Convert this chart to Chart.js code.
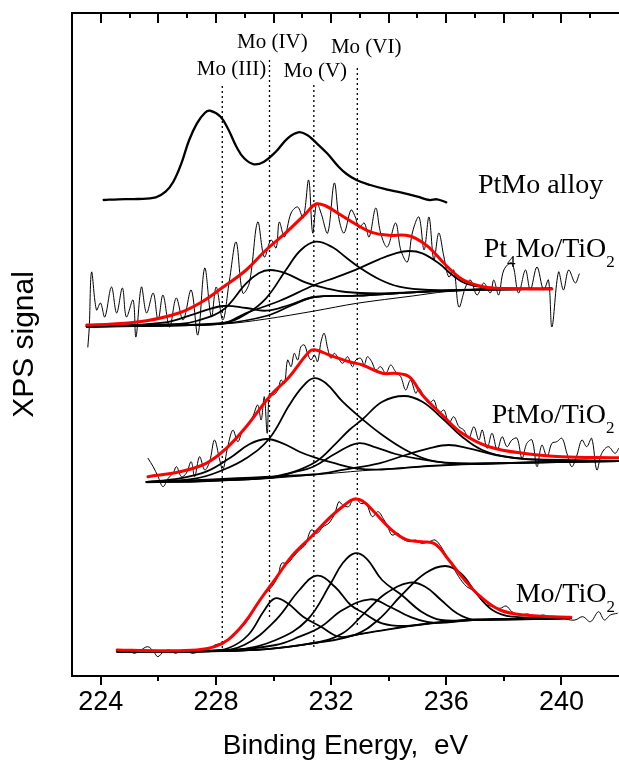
<!DOCTYPE html>
<html><head><meta charset="utf-8">
<script src="https://cdn.jsdelivr.net/npm/chart.js@4.4.0/dist/chart.umd.min.js"></script>
<style>html,body{margin:0;padding:0;background:#fff;}#wrap{width:619px;height:763px;}</style>
</head><body><div id="wrap"><canvas id="c" width="619" height="763"></canvas></div>
<script>
// ---- axis data ----
const energyMin = 223, energyMax = 242;
const intensityMin = 0, intensityMax = 663;
const xTickValues = [224, 228, 232, 236, 240];
const xMinorTickValues = [226, 230, 234, 238];

// ---- Mo oxidation state reference lines ----
const moStateLabels = ['Mo (III)', 'Mo (IV)', 'Mo (V)', 'Mo (VI)'];
const moStateE = [228.22, 229.86, 231.40, 232.91];
const moLineTop = [593, 618, 591, 609];
const moLineBottom = [28, 59, 29, 51];

// ---- PtMo alloy ----
const alloy = [[224.10,476],[224.61,476.7],[225.29,477],[225.91,478.7],[226.25,484.3],[226.52,494.3],[226.80,512.7],[227.07,536],[227.34,552.7],[227.62,563.3],[227.79,565.3],[228.16,559.3],[228.44,546],[228.71,529.3],[228.98,517.7],[229.32,511.7],[229.67,514.3],[230.08,524.3],[230.49,537.7],[230.86,543.7],[231.17,541],[231.44,534.3],[231.86,522.7],[232.26,509.3],[232.54,502],[232.88,496],[233.36,491],[233.91,486.7],[234.45,483.3],[235.00,479.3],[235.41,476],[235.68,476.7],[236.00,473.7]];

// ---- Pt4Mo/TiO2 ----
const pt4Raw = [[223.55,329],[223.60,349],[223.68,404],[223.85,366],[223.99,373],[224.14,359],[224.37,389],[224.55,363],[224.75,388],[224.89,359],[225.12,376],[225.22,339],[225.41,389],[225.59,363],[225.82,383],[225.99,356],[226.16,381],[226.39,349],[226.62,378],[226.86,356],[227.14,386],[227.37,341],[227.61,408],[227.84,359],[228.01,389],[228.24,356],[228.47,396],[228.70,434],[228.93,383],[229.16,393],[229.45,454],[229.68,419],[229.91,436],[230.09,428],[230.20,454],[230.38,439],[230.61,463],[230.84,469],[231.03,458],[231.22,496],[231.36,443],[231.50,473],[231.65,463],[231.88,443],[232.11,493],[232.28,456],[232.45,443],[232.69,466],[232.84,459],[232.97,448],[233.15,453],[233.32,439],[233.55,468],[233.72,443],[233.95,429],[234.24,453],[234.42,426],[234.65,414],[234.82,443],[235.05,459],[235.23,426],[235.40,459],[235.57,416],[235.74,443],[235.92,419],[236.09,399],[236.26,406],[236.44,369],[236.67,389],[236.84,396],[237.07,381],[237.30,393],[237.53,383],[237.65,396],[237.82,381],[238.00,406],[238.28,413],[238.51,383],[238.75,406],[238.92,386],[239.15,409],[239.38,386],[239.55,396],[239.67,349],[239.90,404],[240.07,386],[240.25,406],[240.48,393],[240.62,402]];
const pt4Fit = [[223.51,351],[224.43,352],[225.59,355.3],[226.74,363.3],[227.43,372.7],[228.24,388.7],[229.05,406],[229.74,426],[230.43,443.3],[231.13,462.7],[231.47,472],[231.82,470],[232.28,462],[232.86,451.7],[233.44,443.3],[234.01,440.7],[234.59,440.7],[234.94,437.7],[235.40,428.7],[235.98,411],[236.55,396.7],[237.13,390.3],[237.71,387.7],[239.67,387]];
const pt4Bg1 = [[223.51,349],[228.24,352],[229.74,357],[231.42,365],[232.89,372.7],[234.82,380],[235.98,384.3],[237.71,386.7],[239.67,387]];
const pt4Bg2 = [[223.51,349.5],[226.74,350.7],[228.24,352.3],[229.74,360],[230.66,371],[231.42,379],[232.89,380.3],[234.82,383.7],[237.13,386.3],[239.67,387.3]];
const pt4MoIII = [[223.51,349.5],[226.16,353.3],[227.32,362.7],[228.24,370],[229.05,368],[229.74,365.3],[230.55,371],[231.42,379],[232.89,380.3],[234.82,383.7],[237.13,386.3],[239.67,387.3]];
const pt4MoIV = [[223.51,349.5],[226.74,352],[227.32,355],[228.24,366],[229.05,392.7],[229.50,403],[229.88,406],[230.43,402.7],[231.13,393.3],[231.82,387.7],[232.51,384],[233.67,382.7],[234.82,383.7],[237.13,386.3],[239.67,387.3]];
const pt4MoV = [[223.51,349.5],[226.74,351],[228.24,352.7],[229.05,362],[229.74,377.7],[230.43,406],[230.95,426],[231.47,434.3],[232.05,428.7],[232.51,418.7],[232.97,408.7],[233.67,396.7],[234.36,389.3],[235.40,386],[237.13,386.7],[239.67,387.3]];
const pt4High = [[223.51,349.5],[228.24,353],[229.05,363],[230.20,375],[231.42,391],[232.17,398.7],[232.97,407.7],[233.67,416.7],[234.24,422.7],[234.71,425],[235.17,422.7],[235.74,412.7],[236.21,401],[236.67,392.7],[237.36,388.7],[239.67,387.3]];

// ---- PtMo/TiO2 ----
const ptRaw = [[225.64,217.7],[225.82,209.3],[225.99,199.3],[226.16,189.3],[226.34,197.7],[226.51,202.7],[226.63,209.3],[226.80,199.3],[226.97,202.7],[227.14,214.3],[227.26,199.3],[227.43,219.3],[227.61,206],[227.78,214.3],[227.95,236],[228.13,216],[228.24,206],[228.41,229.3],[228.59,246],[228.76,234.3],[228.93,246],[229.11,251],[229.28,259.3],[229.45,271],[229.57,256],[229.68,279.3],[229.78,242.7],[229.86,282.7],[229.99,281],[230.15,286],[230.26,296],[230.38,292.7],[230.49,316],[230.61,309.3],[230.72,322.7],[230.84,316],[230.95,329.3],[231.07,331],[231.18,322.7],[231.30,316],[231.42,321],[231.53,314.3],[231.65,334.3],[231.76,342.7],[231.88,327.7],[231.99,317.7],[232.11,322.7],[232.22,319.3],[232.40,312.7],[232.57,319.3],[232.74,309.3],[232.86,316],[233.03,317.7],[233.15,311],[233.26,319.3],[233.41,314.3],[233.55,306],[233.72,309.3],[233.90,302.7],[234.07,311],[234.24,304.3],[234.42,299.3],[234.59,286],[234.76,296],[234.94,282.7],[235.05,287.7],[235.23,279.3],[235.40,272.7],[235.57,276],[235.74,262.7],[235.92,266],[236.09,252.7],[236.26,259.3],[236.44,249.3],[236.61,246],[236.78,237.7],[236.96,249.3],[237.13,236],[237.25,246],[237.42,227.7],[237.59,242.7],[237.77,226],[237.94,239.3],[238.11,229.3],[238.28,236],[238.46,237.7],[238.63,217.7],[238.80,232.7],[238.98,236],[239.15,209.3],[239.32,231],[239.50,219.3],[239.67,232.7],[239.84,234.3],[240.02,237.7],[240.19,222.7],[240.36,209.3],[240.54,221],[240.71,236],[240.88,229.3],[241.05,237.7],[241.23,206],[241.40,222.7],[241.63,229.3],[241.86,222.7],[242.0,228]];
const ptFit = [[225.64,199.3],[226.74,204.3],[227.66,212.7],[228.36,227.7],[229.05,249.3],[229.86,279.3],[230.55,299.3],[231.24,324.3],[231.47,326],[231.93,321],[232.63,314.3],[233.09,311],[233.78,302.7],[234.24,302.7],[234.71,299.3],[235.17,281],[235.86,261],[236.55,242.7],[237.48,229.3],[238.86,222],[240.02,219.3],[241.86,218.3],[242.0,218.2]];
const ptBg = [[225.59,193.3],[227.32,194.3],[229.86,197.7],[231.36,201],[233.09,205.3],[235.40,210],[237.71,212.7],[242.0,215]];
const ptMoIV = [[225.59,194],[226.74,197.7],[227.66,204.3],[228.47,217.7],[229.16,231.7],[229.74,237],[230.32,232.7],[230.90,224.3],[231.42,218.7],[232.05,213.3],[232.86,207.7],[233.78,206.5],[235.40,210],[237.71,212.7],[242.0,215]];
const ptMoV = [[225.59,194],[227.32,197.7],[228.24,206],[229.05,217.7],[229.86,237.7],[230.55,271],[231.01,289.3],[231.38,297.7],[231.82,292.7],[232.40,274.3],[233.09,256.7],[233.78,241],[234.59,226],[235.40,216],[236.55,212],[238.86,213.5],[242.0,215]];
const ptMoVI = [[225.59,194],[227.32,194.5],[228.47,195.8],[229.86,198.7],[230.78,204.3],[231.38,209.3],[232.17,222.7],[232.92,232.7],[233.55,228.7],[234.24,222],[234.94,217.7],[235.98,213.3],[237.71,212.9],[242.0,215]];
const ptHigh1 = [[225.59,194],[229.86,198],[230.55,202.7],[231.47,214.3],[232.17,232.7],[232.63,246],[233.09,256.7],[233.78,274.3],[234.53,280],[235.17,274.3],[235.86,257.7],[236.55,239.3],[237.25,226],[238.28,218.3],[240.02,216],[242.0,215.2]];
const ptHigh2 = [[225.59,194],[231.36,201.5],[232.51,206.7],[233.67,212.7],[234.59,221],[235.40,227.7],[236.09,231],[236.78,227.7],[237.71,221],[238.86,216.7],[240.5,215.3],[242.0,215.2]];

// ---- Mo/TiO2 ----
const moRaw = [[224.57,25.3],[224.74,23.3],[224.95,26],[225.16,22.7],[225.36,25.3],[225.63,29.3],[225.84,24.3],[225.98,19.3],[226.18,24.3],[226.39,26],[226.59,22.7],[226.80,25.3],[227.00,24.3],[227.21,22.7],[227.48,25.3],[227.75,26.7],[227.96,31],[228.16,32.7],[228.37,36],[228.57,39.3],[228.78,46],[228.98,51],[229.26,62.7],[229.46,72.7],[229.67,81],[229.94,89.3],[230.15,99.3],[230.28,112.7],[230.49,112.7],[230.69,119.3],[230.90,126],[231.10,131],[231.31,146],[231.51,142.7],[231.72,149.3],[231.92,152.7],[232.13,162.7],[232.27,174.3],[232.40,171],[232.61,169.3],[232.74,176],[232.88,177.7],[233.02,172.7],[233.22,172],[233.43,159.3],[233.63,164.3],[233.84,156],[233.97,149.3],[234.11,141],[234.32,142.7],[234.45,137.7],[234.73,134.3],[234.93,136],[235.14,132.7],[235.41,134.3],[235.61,136],[235.82,129.3],[236.02,119.3],[236.23,109.3],[236.43,99.3],[236.71,89.3],[236.91,86],[237.12,79.3],[237.32,72.7],[237.60,69.3],[237.87,67.7],[238.08,70],[238.28,64.3],[238.55,61],[238.83,62],[239.10,59.3],[239.37,61],[239.65,58.7],[239.92,59.3],[240.19,56.7],[240.47,56],[240.74,59.3],[241.01,54.3],[241.29,64.3],[241.49,56],[241.70,61],[241.94,62.7]];
const moFit = [[224.57,26],[225.98,25.3],[227.34,26],[227.96,29.3],[228.44,36.7],[228.98,52.7],[229.53,76],[230.08,97.7],[230.62,119.3],[231.31,139.3],[231.99,159.3],[232.47,171],[232.78,176.7],[233.08,175.3],[233.49,164.3],[234.04,147.7],[234.59,136.7],[235.14,134.3],[235.61,132],[236.09,116],[236.64,96],[237.19,79.3],[237.87,66],[238.69,61],[240.33,58.7]];
const moBg = [[224.57,24.3],[227.89,24.3],[229.39,26],[231.44,32.7],[233.49,44.3],[235.27,52],[236.91,56],[240.33,58]];
const moC1 = [[224.57,24.5],[227.62,25],[228.44,28],[229.12,41],[229.67,65.3],[230.05,77.7],[230.49,72.7],[231.03,59.3],[231.65,49.3],[232.27,39.3],[232.81,41],[233.49,44.3],[235.27,52],[236.91,56],[240.33,58]];
const moC2 = [[224.57,24.5],[227.89,25],[228.98,31],[230.08,56],[230.90,86],[231.51,100.3],[232.13,89.3],[232.68,71],[233.15,62.7],[233.77,52.7],[234.59,50],[235.27,52.2],[236.91,56],[240.33,58]];
const moC3 = [[224.57,24.5],[227.89,25],[228.71,25.8],[230.08,36],[231.17,56],[231.99,92.7],[232.40,112.7],[232.81,122.7],[233.22,117.7],[233.77,96],[234.45,81],[235.14,64.3],[235.82,56],[236.91,56.2],[240.33,58]];
const moC4 = [[224.57,24.5],[228.44,26],[230.08,31],[230.90,39.3],[231.65,49.3],[232.40,66],[233.36,76.7],[234.04,69.3],[234.73,59.3],[235.55,53.3],[236.91,56],[240.33,58]];
const moC5 = [[224.57,24.5],[229.39,26.2],[231.44,33.3],[232.40,42.7],[233.15,62.7],[233.91,82.7],[234.73,93.3],[235.27,89.3],[235.82,76],[236.37,62.7],[236.91,56.7],[240.33,58]];
const moC6 = [[224.57,24.5],[229.39,26.2],[231.44,33],[232.81,41],[233.63,56],[234.45,81],[235.27,102.7],[235.96,110],[236.50,102.7],[237.05,82.7],[237.60,66],[238.28,59.3],[240.33,58]];

// ---- build datasets ----
const pts = a => a.map(p => ({x: p[0], y: p[1]}));
function line(arr, color, width, tension) {
  return {data: pts(arr), borderColor: color, borderWidth: width, tension: tension,
          pointRadius: 0, fill: false, borderJoinStyle: 'round', borderCapStyle: 'round'};
}
const RED = '#ff0000', BLK = '#000000';
const datasets = [];
[pt4Fit, ptFit, moFit].forEach(a => datasets.push(line(a, RED, 3, 0.4)));
[pt4MoIII, pt4MoIV, pt4MoV, pt4High, pt4Bg2,
 ptMoIV, ptMoV, ptMoVI, ptHigh1, ptHigh2,
 moC1, moC2, moC3, moC4, moC5, moC6].forEach(a => datasets.push(line(a, BLK, 1.8, 0.4)));
[pt4Bg1, ptBg, moBg].forEach(a => datasets.push(line(a, BLK, 1, 0.3)));
datasets.push(line(alloy, BLK, 2.3, 0.4));
[pt4Raw, ptRaw, moRaw].forEach(a => datasets.push(line(a, BLK, 1, 0.35)));
moStateE.forEach((e, i) => {
  const d = line([[e, moLineBottom[i]], [e, moLineTop[i]]], BLK, 1.3, 0);
  d.borderDash = [2, 3]; d.borderCapStyle = 'butt';
  datasets.push(d);
});

// ---- frame, minor ticks and text labels ----
const framePlugin = {
  id: 'frame',
  afterDraw(chart) {
    const {ctx, chartArea: ca, scales: {x, y}} = chart;
    ctx.save();
    ctx.strokeStyle = '#000'; ctx.lineWidth = 2;
    ctx.beginPath(); ctx.moveTo(ca.left - 1, ca.top); ctx.lineTo(ca.right, ca.top); ctx.stroke();
    for (let e = energyMin + 1; e < energyMax; e++) {
      const px = Math.round(x.getPixelForValue(e));
      const len = (e % 2 === 0) ? 10 : 5;
      ctx.beginPath(); ctx.moveTo(px, ca.top); ctx.lineTo(px, ca.top + len); ctx.stroke();
    }
    xMinorTickValues.forEach(e => {
      const px = Math.round(x.getPixelForValue(e));
      ctx.beginPath(); ctx.moveTo(px, ca.bottom); ctx.lineTo(px, ca.bottom + 5); ctx.stroke();
    });
    ctx.fillStyle = '#000';
    ctx.textBaseline = 'alphabetic';
    ctx.font = '21px "Liberation Serif", "Times New Roman", serif';
    ctx.textAlign = 'center';
    const labelPos = [[228.54, 601], [229.96, 628], [231.45, 599], [233.22, 623]];
    moStateLabels.forEach((t, i) => {
      ctx.fillText(t, x.getPixelForValue(labelPos[i][0]), y.getPixelForValue(labelPos[i][1]));
    });
    ctx.textAlign = 'left';
    function chem(parts, e, v) {
      let px = x.getPixelForValue(e); const py = y.getPixelForValue(v);
      parts.forEach(([t, sub]) => {
        ctx.font = (sub ? '17px' : '28px') + ' "Liberation Serif", "Times New Roman", serif';
        ctx.fillText(t, px, py + (sub ? 10 : 0));
        px += ctx.measureText(t).width;
      });
    }
    chem([['PtMo alloy', 0]], 237.10, 483);
    chem([['Pt', 0], ['4', 1], ['Mo/TiO', 0], ['2', 1]], 237.30, 419);
    chem([['PtMo/TiO', 0], ['2', 1]], 237.58, 253);
    chem([['Mo/TiO', 0], ['2', 1]], 238.41, 74);
    ctx.restore();
  }
};

const sans = '"Liberation Sans", Arial, sans-serif';
new Chart(document.getElementById('c'), {
  type: 'line',
  data: {datasets},
  options: {
    responsive: false, animation: false, devicePixelRatio: 1,
    layout: {padding: {top: 13, right: 0, left: 0, bottom: 0}},
    plugins: {legend: {display: false}, tooltip: {enabled: false}},
    scales: {
      x: {
        type: 'linear', min: energyMin, max: energyMax, position: 'bottom',
        afterBuildTicks: s => { s.ticks = xTickValues.map(v => ({value: v})); },
        afterFit: s => { s.height = 87; },
        grid: {display: true, drawOnChartArea: false, drawTicks: true, tickLength: 9, color: '#000', lineWidth: 2},
        border: {display: true, color: '#000', width: 2},
        ticks: {color: '#000', font: {family: sans, size: 27}, padding: 1, maxRotation: 0, autoSkip: false},
        title: {display: true, text: 'Binding Energy,  eV', color: '#000', font: {family: sans, size: 28}, padding: {top: 0, bottom: 0}}
      },
      y: {
        type: 'linear', min: intensityMin, max: intensityMax, position: 'left',
        afterFit: s => { s.width = 72; },
        grid: {display: false, drawTicks: false},
        border: {display: true, color: '#000', width: 2},
        ticks: {display: false},
        title: {display: true, text: 'XPS signal', color: '#000', font: {family: sans, size: 30}, padding: {top: 7, bottom: 0}}
      }
    }
  },
  plugins: [framePlugin]
});
</script></body></html>
